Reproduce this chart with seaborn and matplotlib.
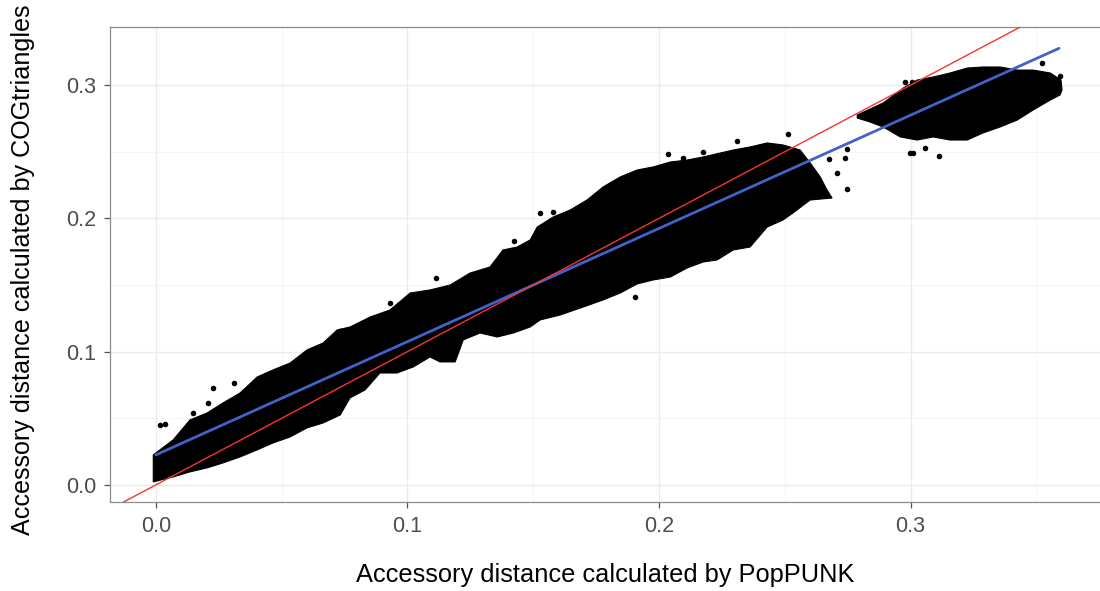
import matplotlib
matplotlib.use("Agg")
import matplotlib.pyplot as plt
import seaborn as sns
import pandas as pd
from matplotlib.ticker import MultipleLocator

# ---- data ----
# dense cloud 1: outer envelope (upper edge left->right, lower edge right->left)
cloud1_upper_x = [-0.001, 0.0069, 0.0136, 0.0204, 0.0267, 0.0335, 0.0403, 0.0466, 0.0534, 0.0601,
                  0.0665, 0.0721, 0.0772, 0.0852, 0.0931, 0.1011, 0.1090, 0.1170, 0.1249, 0.1328,
                  0.1380, 0.1436, 0.1488, 0.1516, 0.1579, 0.1647, 0.1714, 0.1778, 0.1846, 0.1913,
                  0.1977, 0.2045, 0.2112, 0.2176, 0.2295, 0.2362, 0.2430, 0.2493, 0.2561, 0.2601,
                  0.2641, 0.2668, 0.2688]
cloud1_upper_y = [0.0225, 0.0338, 0.0488, 0.0540, 0.0615, 0.0690, 0.0810, 0.0863, 0.0915, 0.1013,
                  0.1065, 0.1163, 0.1185, 0.1260, 0.1313, 0.1440, 0.1463, 0.1500, 0.1590, 0.1635,
                  0.1763, 0.1785, 0.1838, 0.1935, 0.2010, 0.2063, 0.2138, 0.2236, 0.2311, 0.2363,
                  0.2386, 0.2423, 0.2438, 0.2461, 0.2513, 0.2536, 0.2566, 0.2551, 0.2513, 0.2416,
                  0.2311, 0.2213, 0.2153]
cloud1_lower_x = [0.2601, 0.2533, 0.2493, 0.2430, 0.2362, 0.2295, 0.2231, 0.2176, 0.2112, 0.2045,
                  0.1977, 0.1913, 0.1846, 0.1778, 0.1699, 0.1607, 0.1528, 0.1488, 0.1421, 0.1357,
                  0.1289, 0.1222, 0.1190, 0.1130, 0.1090, 0.1023, 0.0959, 0.0891, 0.0832, 0.0772,
                  0.0733, 0.0665, 0.0601, 0.0534, 0.0466, 0.0403, 0.0335, 0.0267, 0.0204, 0.0136,
                  0.0069, -0.001]
cloud1_lower_y = [0.2138, 0.2041, 0.1988, 0.1935, 0.1785, 0.1763, 0.1688, 0.1673, 0.1628, 0.1560,
                  0.1538, 0.1508, 0.1440, 0.1388, 0.1335, 0.1275, 0.1238, 0.1185, 0.1140, 0.1110,
                  0.1140, 0.1088, 0.0923, 0.0923, 0.0960, 0.0885, 0.0840, 0.0840, 0.0713, 0.0653,
                  0.0525, 0.0465, 0.0428, 0.0360, 0.0315, 0.0263, 0.0210, 0.0165, 0.0128, 0.0098,
                  0.0060, 0.0023]

# dense cloud 2
cloud2_upper_x = [0.2788, 0.2891, 0.2971, 0.3026, 0.3090, 0.3157, 0.3225, 0.3288, 0.3356, 0.3424,
                  0.3487, 0.3555, 0.3598, 0.3602]
cloud2_upper_y = [0.2776, 0.2866, 0.2978, 0.3038, 0.3061, 0.3091, 0.3128, 0.3136, 0.3136, 0.3113,
                  0.3113, 0.3091, 0.3038, 0.2963]
cloud2_lower_x = [0.3594, 0.3555, 0.3487, 0.3424, 0.3356, 0.3288, 0.3225, 0.3157, 0.3090, 0.3026,
                  0.2959, 0.2891, 0.2839, 0.2788]
cloud2_lower_y = [0.2926, 0.2888, 0.2813, 0.2738, 0.2686, 0.2641, 0.2588, 0.2588, 0.2611, 0.2588,
                  0.2611, 0.2686, 0.2723, 0.2753]

# isolated points
outlier_x = [0.0017, 0.0037, 0.0148, 0.0208, 0.0228, 0.0311, 0.0733, 0.0788, 0.0931, 0.1114,
             0.1424, 0.1528, 0.1579, 0.1905, 0.2036, 0.2096, 0.2176, 0.2310, 0.2513, 0.2676,
             0.2708, 0.2740, 0.2747, 0.2747, 0.2979, 0.3006, 0.2998, 0.3010, 0.3058, 0.3114,
             0.3523, 0.3594]
outlier_y = [0.0450, 0.0458, 0.0540, 0.0615, 0.0728, 0.0765, 0.1155, 0.1178, 0.1365, 0.1553,
             0.1830, 0.2040, 0.2048, 0.1410, 0.2483, 0.2453, 0.2498, 0.2581, 0.2633, 0.2446,
             0.2340, 0.2453, 0.2521, 0.2220, 0.3023, 0.3023, 0.2490, 0.2490, 0.2528, 0.2468,
             0.3166, 0.3068]

# fitted (lm) line and identity line
smooth_x = [0.0, 0.359]
smooth_y = [0.0225, 0.3276]
identity_intercept = 0.0
identity_slope = 1.0

x_ticks = [0.0, 0.1, 0.2, 0.3]
x_tick_labels = ["0.0", "0.1", "0.2", "0.3"]
y_ticks = [0.0, 0.1, 0.2, 0.3]
y_tick_labels = ["0.0", "0.1", "0.2", "0.3"]
x_title = "Accessory distance calculated by PopPUNK"
y_title = "Accessory distance calculated by COGtriangles"

# ---- drawing ----
sns.set_theme(style="white")
plt.rcParams["font.family"] = ["Liberation Sans", "DejaVu Sans"]

fig = plt.figure(figsize=(11, 5.91), dpi=100)
ax = fig.add_axes([0.1, 0.1506, 0.9062, 0.8037])

ax.fill(cloud1_upper_x + cloud1_lower_x, cloud1_upper_y + cloud1_lower_y,
        color="black", lw=0.8, zorder=2)
ax.fill(cloud2_upper_x + cloud2_lower_x, cloud2_upper_y + cloud2_lower_y,
        color="black", lw=0.8, zorder=2)
pts = pd.DataFrame({"x": outlier_x, "y": outlier_y})
sns.scatterplot(data=pts, x="x", y="y", ax=ax, color="black", s=16,
                linewidth=0, zorder=3)

sns.lineplot(x=smooth_x, y=smooth_y, ax=ax, color="#4262C8", lw=2.0, zorder=4)
ax.axline((0, identity_intercept), slope=identity_slope, color="#F53535", lw=1.0, zorder=5)

ax.set_xlim(-0.0182, 0.378)
ax.set_ylim(-0.0128, 0.3436)
ax.set_xticks(x_ticks)
ax.set_xticklabels(x_tick_labels)
ax.set_yticks(y_ticks)
ax.set_yticklabels(y_tick_labels)
ax.xaxis.set_minor_locator(MultipleLocator(0.05))
ax.yaxis.set_minor_locator(MultipleLocator(0.05))
ax.set_axisbelow(True)
ax.grid(which="major", color="#EBEBEB", lw=1.0)
ax.grid(which="minor", color="#F2F2F2", lw=0.6)

for sp in ax.spines.values():
    sp.set_color("#8C8C8C")
    sp.set_linewidth(0.9)

ax.tick_params(which="major", direction="out", length=4, width=0.9, color="#555555",
               labelcolor="#4D4D4D", labelsize=15.5, pad=6, bottom=True, left=True)
ax.tick_params(which="minor", length=0)

ax.set_xlabel(x_title, fontsize=18.3, color="black")
ax.set_ylabel(y_title, fontsize=18.1, color="black")
ax.xaxis.set_label_coords(0.4966, -0.128)
ax.yaxis.set_label_coords(-0.0752, 0.488)

fig.savefig("out.png", dpi=100)
